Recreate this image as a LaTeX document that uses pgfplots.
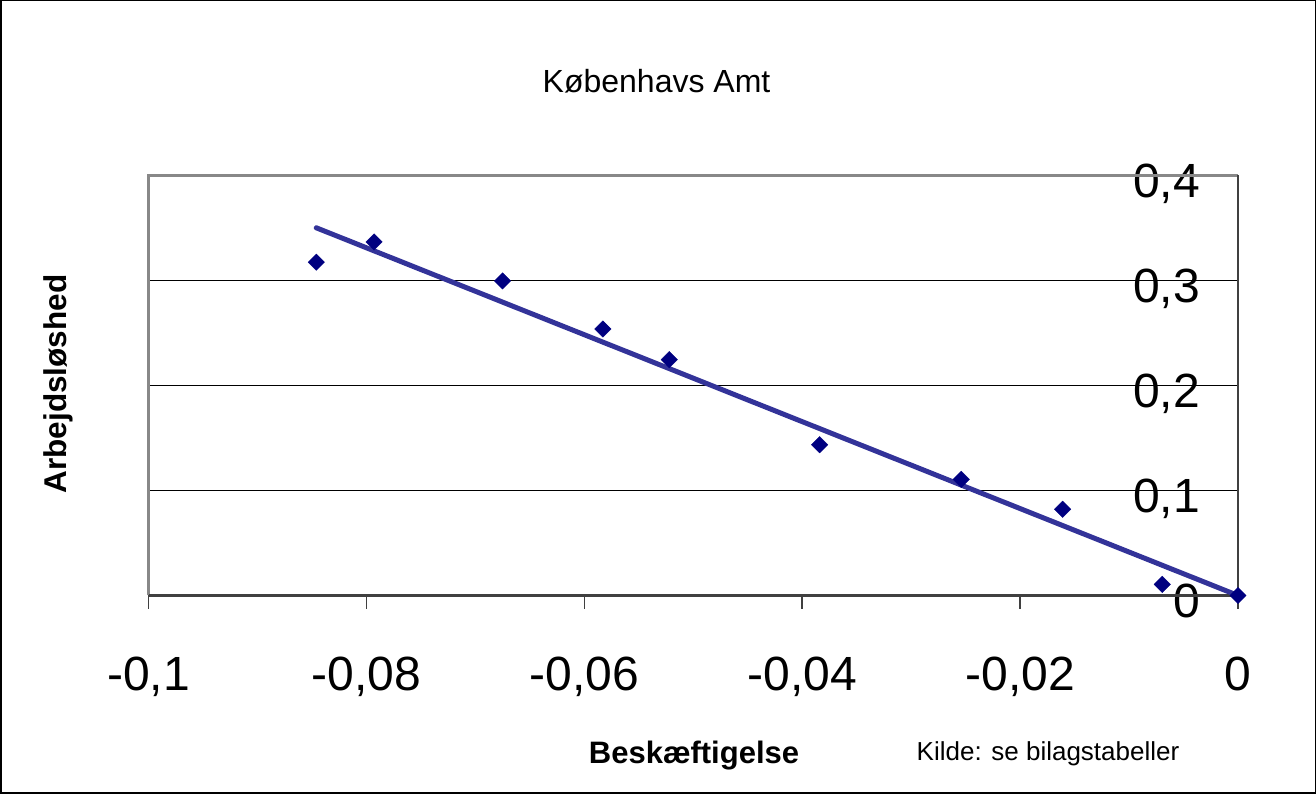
\documentclass[border=0pt]{standalone}
\usepackage{fontspec}
\setmainfont{Liberation Sans}
\usepackage{pgfplots}
\usepackage{pgfplotstable}
\pgfplotsset{compat=1.18}
\definecolor{navy}{HTML}{000080}
\definecolor{trend}{HTML}{333399}
\definecolor{bordergray}{HTML}{888888}
\definecolor{axisdark}{HTML}{404040}
\pgfplotstableread{
x y
-0.0846 0.3174
-0.0793 0.3367
-0.0675 0.2996
-0.0583 0.2538
-0.0522 0.2246
-0.0384 0.1436
-0.0254 0.1106
-0.0161 0.0821
-0.00695 0.0106
0 0
}\datatable
\pgfplotstableread{
x y
-0.0846 0.3502
0 0.0
}\trendtable
\begin{document}
\begin{tikzpicture}
\useasboundingbox (0,0) rectangle (1316pt,794pt);
\draw[black, line width=1.5pt] (0.75pt,0.75pt) rectangle (1315.25pt,793.25pt);
\begin{axis}[
  at={(148.5pt,198.5pt)}, anchor=south west,
  scale only axis, width=1089.5pt, height=420pt,
  xmin=-0.1, xmax=0, ymin=0, ymax=0.4,
  axis line style={draw=none},
  xtick={-0.1,-0.08,-0.06,-0.04,-0.02,0},
  xticklabels={{-0,1},{-0,08},{-0,06},{-0,04},{-0,02},{0}},
  ytick={0,0.1,0.2,0.3,0.4},
  yticklabels={{0},{0,1},{0,2},{0,3},{0,4}},
  xtick pos=bottom, ytick pos=right,
  xticklabel pos=bottom, yticklabel pos=right,
  tick align=inside,
  major tick length=14pt,
  xtick style={draw=none},
  ytick style={axisdark, line width=1.5pt},
  ticklabel style={font=\fontsize{48}{48}\selectfont, inner sep=0pt},
  xticklabel style={anchor=base, yshift=-95pt},
  yticklabel style={anchor=base east, xshift=-38pt, yshift=-22pt},
  title={Københavs Amt},
  title style={at={(0.4663,1.1845)}, anchor=base, inner sep=0pt, font=\fontsize{32}{32}\selectfont},
  xlabel={Beskæftigelse},
  xlabel style={at={(0.5007,-0.399)}, anchor=base, inner sep=0pt, font=\bfseries\fontsize{31}{31}\selectfont},
  ylabel={Arbejdsløshed},
  ylabel style={at={(-0.0757,0.5036)}, anchor=base, rotate=0, inner sep=0pt, font=\bfseries\fontsize{31.5}{31.5}\selectfont},
  clip=false,
]
% gridlines and plot-area frame
\draw[black, line width=1.4pt] (axis cs:-0.1,0.1) -- (axis cs:0,0.1);
\draw[black, line width=1.4pt] (axis cs:-0.1,0.2) -- (axis cs:0,0.2);
\draw[black, line width=1.4pt] (axis cs:-0.1,0.3) -- (axis cs:0,0.3);
\draw[bordergray, line width=2.2pt] (axis cs:-0.1,0) -- (axis cs:-0.1,0.4) -- (axis cs:0,0.4);
\draw[axisdark, line width=2.2pt] (axis cs:-0.1,0) -- (axis cs:0,0) -- (axis cs:0,0.4);
% x tick marks (below the axis)
\draw[axisdark, line width=1.5pt] (axis cs:-0.1,0) -- ([yshift=-14pt]axis cs:-0.1,0);
\draw[axisdark, line width=1.5pt] (axis cs:-0.08,0) -- ([yshift=-14pt]axis cs:-0.08,0);
\draw[axisdark, line width=1.5pt] (axis cs:-0.06,0) -- ([yshift=-14pt]axis cs:-0.06,0);
\draw[axisdark, line width=1.5pt] (axis cs:-0.04,0) -- ([yshift=-14pt]axis cs:-0.04,0);
\draw[axisdark, line width=1.5pt] (axis cs:-0.02,0) -- ([yshift=-14pt]axis cs:-0.02,0);
\draw[axisdark, line width=1.5pt] (axis cs:0,0) -- ([yshift=-14pt]axis cs:0,0);
\addplot[trend, line width=5pt, line cap=round, no markers] table[x=x,y=y] {\trendtable};
\addplot[only marks, mark=square*, mark size=5.8pt, mark options={rotate=45, fill=navy, draw=navy}] table[x=x,y=y] {\datatable};
\node[anchor=base, inner sep=0pt, font=\fontsize{26}{26}\selectfont] at (axis description cs:0.8256,-0.394) {Kilde: se bilagstabeller};
\end{axis}
\end{tikzpicture}
\end{document}
